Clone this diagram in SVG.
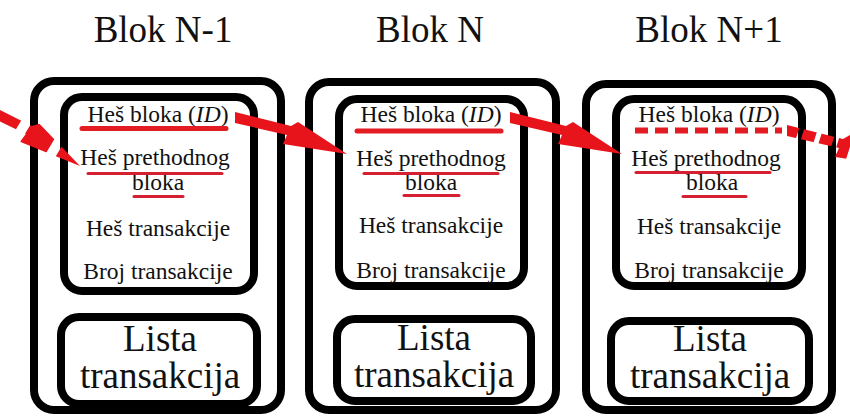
<svg xmlns="http://www.w3.org/2000/svg" xmlns:xlink="http://www.w3.org/1999/xlink" width="850" height="416" viewBox="0 0 850 416">
<style>
.outer{fill:none;stroke:#000;stroke-width:8}
.inner{fill:#fff;stroke:#000;stroke-width:8}
.t{font-family:"Liberation Serif","Times New Roman",serif;fill:#111;text-anchor:middle}
.title{font-size:37px}
.f{font-size:23.5px}
.big{font-size:37px}
.ul{stroke:#e31b23;stroke-width:5;stroke-linecap:round;fill:none}
.ul2{stroke:#d42030;stroke-width:3;stroke-linecap:round;fill:none}
.arrow{fill:#e8141c}
</style>
<defs>
<path id="bolt" d="M-112,-42 L-56,-28 L-49,-32 L0,0 L-64,-10 L-60,-19 L-112,-31 Z"/>
<mask id="m1" maskUnits="userSpaceOnUse" x="0" y="0" width="850" height="416">
<line x1="82" y1="167" x2="-89" y2="64" stroke="#fff" stroke-width="90" stroke-dasharray="28 10"/>
</mask>
<mask id="m4" maskUnits="userSpaceOnUse" x="0" y="0" width="850" height="416">
<line x1="785" y1="130" x2="928" y2="175.6" stroke="#fff" stroke-width="90" stroke-dasharray="13 5"/>
</mask>
</defs>
<rect width="850" height="416" fill="#fff"/>

<g id="blok-n-1">
<text class="t title" x="163" y="42">Blok N-1</text>
<rect class="outer" x="34" y="81" width="247" height="329" rx="20"/>
<rect class="inner" x="64" y="97" width="190" height="194" rx="18"/>
<text class="t f" x="158" y="122">Heš bloka (<tspan font-style="italic">ID</tspan>)</text>
<text class="t f" x="155" y="165">Heš prethodnog</text>
<text class="t f" x="158" y="190">bloka</text>
<text class="t f" x="158" y="236">Heš transakcije</text>
<text class="t f" x="158" y="279">Broj transakcije</text>
<line class="ul" x1="82" y1="128.5" x2="226" y2="128.5"/>
<line class="ul2" x1="88" y1="173.5" x2="222" y2="173.5"/>
<line class="ul2" x1="134" y1="196.5" x2="183" y2="196.5"/>
<rect class="inner" x="61" y="317" width="196" height="87" rx="18"/>
<text class="t big" x="160" y="351">Lista</text>
<text class="t big" x="160" y="388">transakcija</text>
</g>

<g id="blok-n">
<text class="t title" x="430" y="42">Blok N</text>
<rect class="outer" x="309" y="82" width="247" height="328" rx="20"/>
<rect class="inner" x="339" y="99" width="185" height="187" rx="18"/>
<text class="t f" x="431" y="122">Heš bloka (<tspan font-style="italic">ID</tspan>)</text>
<text class="t f" x="431" y="166">Heš prethodnog</text>
<text class="t f" x="431" y="190">bloka</text>
<text class="t f" x="431" y="233">Heš transakcije</text>
<text class="t f" x="431" y="278">Broj transakcije</text>
<line class="ul" x1="357" y1="131" x2="501" y2="131"/>
<line class="ul2" x1="364" y1="173.5" x2="498" y2="173.5"/>
<line class="ul2" x1="404" y1="195.5" x2="459" y2="195.5"/>
<rect class="inner" x="337" y="319" width="194" height="82" rx="18"/>
<text class="t big" x="434" y="350">Lista</text>
<text class="t big" x="434" y="387">transakcija</text>
</g>

<g id="blok-n-plus-1">
<text class="t title" x="709" y="42">Blok N+1</text>
<rect class="outer" x="586" y="84" width="246" height="326" rx="20"/>
<rect class="inner" x="616" y="99" width="186" height="187" rx="18"/>
<text class="t f" x="709" y="122">Heš bloka (<tspan font-style="italic">ID</tspan>)</text>
<text class="t f" x="706" y="166">Heš prethodnog</text>
<text class="t f" x="712" y="190">bloka</text>
<text class="t f" x="709" y="234">Heš transakcije</text>
<text class="t f" x="709" y="278">Broj transakcije</text>
<line x1="635" y1="130.5" x2="782" y2="130.5" stroke="#e31b23" stroke-width="6" stroke-dasharray="13 7"/>
<line class="ul2" x1="636" y1="172.5" x2="770" y2="172.5"/>
<line class="ul2" x1="683" y1="196.5" x2="746" y2="196.5"/>
<rect class="inner" x="611" y="321" width="198" height="80" rx="18"/>
<text class="t big" x="710" y="351">Lista</text>
<text class="t big" x="710" y="388">transakcija</text>
</g>

<g id="connectors">
<g mask="url(#m1)"><use xlink:href="#bolt" class="arrow" transform="translate(80,166) rotate(13)"/></g>
<use xlink:href="#bolt" class="arrow" transform="translate(347,154)"/>
<use xlink:href="#bolt" class="arrow" transform="translate(622,154)"/>
<g mask="url(#m4)"><use xlink:href="#bolt" class="arrow" transform="translate(899,167)"/></g>
</g>
</svg>
